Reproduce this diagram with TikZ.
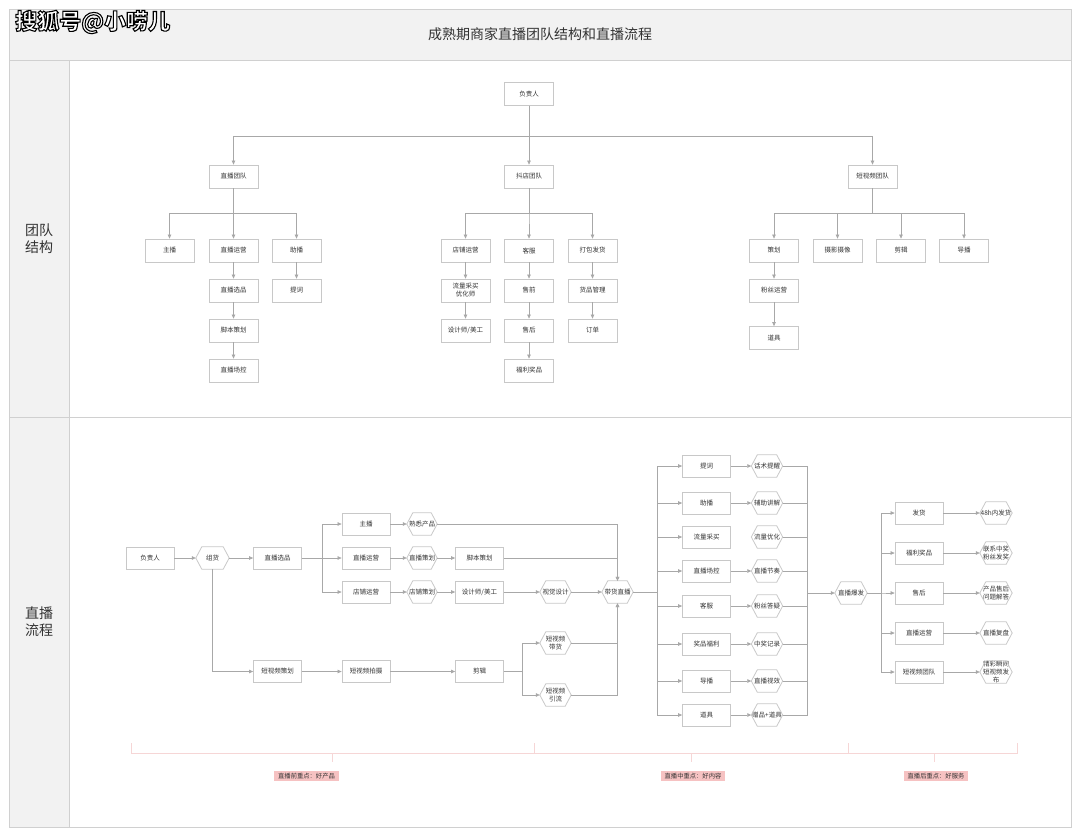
\documentclass[tikz,border=0pt]{standalone}
\usepackage{fontspec}
\setmainfont{Noto Sans CJK SC}
\usetikzlibrary{arrows.meta}
\definecolor{bord}{HTML}{C8C8C8}
\definecolor{lnc}{HTML}{A8A8A8}
\definecolor{framec}{HTML}{D0D0D0}
\definecolor{panel}{HTML}{F2F2F2}
\definecolor{txt}{HTML}{333333}
\definecolor{brc}{HTML}{F6D6D6}
\definecolor{labc}{HTML}{F6C2C2}
\tikzset{
  box/.style={draw=bord, line width=0.8pt, fill=white, minimum width=49pt, minimum height=23pt,
    inner sep=1pt, align=center, font=\fontsize{6.5}{8}\selectfont, text=txt},
  hexn/.style={minimum width=#1, minimum height=22pt, inner sep=0pt, align=center,
    font=\fontsize{6.5}{8}\selectfont, text=txt},
  hexl/.style={draw=bord, line width=0.8pt},
  arr/.style={draw=lnc, line width=0.7pt, -{Triangle[length=4pt,width=3.6pt]}},
  ln/.style={draw=lnc, line width=0.7pt},
  brace/.style={draw=brc, line width=0.8pt},
  keylab/.style={fill=labc, inner xsep=4pt, inner ysep=2pt, font=\fontsize{6.3}{7}\selectfont, text=txt},
}
\newcommand\hexat[4][31]{%
  \node[hexn=#1pt] (#2) at (#3) {#4};
  \draw[hexl] (#2.west) -- ([xshift=6pt]#2.north west) -- ([xshift=-6pt]#2.north east) -- (#2.east)
    -- ([xshift=-6pt]#2.south east) -- ([xshift=6pt]#2.south west) -- cycle;}
\begin{document}
\begin{tikzpicture}[x=1pt, y=-1pt]
\useasboundingbox (0,0) rectangle (1080,836);
% frame
\fill[panel] (9,9) rectangle (1071,60);
\fill[panel] (9,60) rectangle (69,827);
\draw[framec, line width=0.9pt] (9,9) rectangle (1071,827);
\draw[framec, line width=0.9pt] (9,60) -- (1071,60);
\draw[framec, line width=0.9pt] (9,417) -- (1071,417);
\draw[framec, line width=0.9pt] (69,60) -- (69,827);
\node[anchor=west, font=\fontsize{22}{24}\selectfont\bfseries, text=white, inner sep=0pt] (wm) at (15,22)
  {\special{pdf:literal direct 0 0 0 RG 2 Tr 1.1 w}搜狐号@小唠儿\special{pdf:literal direct 0 Tr}};
\node[font=\fontsize{14}{16}\selectfont, text=txt] (title) at (540,34) {成熟期商家直播团队结构和直播流程};
\node[font=\fontsize{14}{17}\selectfont, text=txt, align=center] (sec1) at (39,239) {团队\\结构};
\node[font=\fontsize{14}{17}\selectfont, text=txt, align=center] (sec2) at (39,622) {直播\\流程};

% ===== team structure =====
\node[box] (boss) at (529,94) {负责人};
\node[box] (zbtd) at (233.5,176.5) {直播团队};
\node[box] (dtd) at (529,176.5) {抖店团队};
\node[box] (dsp) at (872.5,176.5) {短视频团队};
\node[box] (zb) at (169.5,250.5) {主播};
\node[box] (zbyy) at (233.5,250.5) {直播运营};
\node[box] (zhub) at (296.5,250.5) {助播};
\node[box] (zbxp) at (233.5,290.5) {直播选品};
\node[box] (jbch) at (233.5,330.5) {脚本策划};
\node[box] (zbck) at (233.5,370.5) {直播场控};
\node[box] (tc) at (296.5,290.5) {提词};
\node[box] (dpyy) at (465.5,250.5) {店铺运营};
\node[box] (llcm) at (465.5,290.5) {流量采买\\优化师};
\node[box] (sjs) at (465.5,330.5) {设计师/美工};
\node[box] (kf) at (529,250.5) {客服};
\node[box] (sq) at (529,290.5) {售前};
\node[box] (sh) at (529,330.5) {售后};
\node[box] (fljp) at (529,370.5) {福利奖品};
\node[box] (dbfh) at (592.5,250.5) {打包发货};
\node[box] (hpgl) at (592.5,290.5) {货品管理};
\node[box] (dd) at (592.5,330.5) {订单};
\node[box] (ch) at (774,250.5) {策划};
\node[box] (sysx) at (837.5,250.5) {摄影摄像};
\node[box] (jj) at (901,250.5) {剪辑};
\node[box] (db) at (964,250.5) {导播};
\node[box] (fsyy) at (774,290.5) {粉丝运营};
\node[box] (dj) at (774,338) {道具};

\draw[arr] (boss.south) -- ++(0,30) -| (zbtd.north);
\draw[arr] (boss.south) -- (dtd.north);
\draw[arr] (boss.south) -- ++(0,30) -| (dsp.north);
\foreach \c in {zb,zbyy,zhub} \draw[arr] (zbtd.south) -- ++(0,25) -| (\c.north);
\foreach \c in {dpyy,kf,dbfh} \draw[arr] (dtd.south) -- ++(0,25) -| (\c.north);
\foreach \c in {ch,sysx,jj,db} \draw[arr] (dsp.south) -- ++(0,25) -| (\c.north);
\draw[arr] (zbyy) -- (zbxp);
\draw[arr] (zbxp) -- (jbch);
\draw[arr] (jbch) -- (zbck);
\draw[arr] (zhub) -- (tc);
\draw[arr] (dpyy) -- (llcm);
\draw[arr] (llcm) -- (sjs);
\draw[arr] (kf) -- (sq);
\draw[arr] (sq) -- (sh);
\draw[arr] (sh) -- (fljp);
\draw[arr] (dbfh) -- (hpgl);
\draw[arr] (hpgl) -- (dd);
\draw[arr] (ch) -- (fsyy);
\draw[arr] (fsyy) -- (dj);

% ===== live flow =====
\node[box, minimum width=48pt, minimum height=22pt] (fz) at (150,558) {负责人};
\hexat[33]{zh}{212.5,558}{组货}
\node[box, minimum width=48pt, minimum height=22pt] (xp) at (277.5,558) {直播选品};
\node[box, minimum width=48pt, minimum height=22pt] (zb2) at (366,524) {主播};
\node[box, minimum width=48pt, minimum height=22pt] (yy2) at (366,558) {直播运营};
\node[box, minimum width=48pt, minimum height=22pt] (dp2) at (366,592) {店铺运营};
\node[box, minimum width=48pt, minimum height=22pt] (dspch) at (277.5,671.5) {短视频策划};
\node[box, minimum width=48pt, minimum height=22pt] (dsppz) at (366,671.5) {短视频拍摄};
\hexat[30]{sxcp}{422,524}{熟悉产品}
\hexat[30]{zbcehua}{422,558}{直播策划}
\node[box, minimum width=48pt, minimum height=22pt] (jbch2) at (479.5,558) {脚本策划};
\hexat[30]{dpch}{422,592}{店铺策划}
\node[box, minimum width=48pt, minimum height=22pt] (sjs2) at (479.5,592) {设计师/美工};
\hexat{sjsj}{555.5,592}{视觉设计}
\hexat{dhzb}{617.5,592}{带货直播}
\node[box, minimum width=48pt, minimum height=22pt] (jj2) at (479.5,671.5) {剪辑};
\hexat{dspdh}{555.5,643}{短视频\\带货}
\hexat{dspyl}{555.5,695}{短视频\\引流}

\draw[arr] (fz.east) -- (zh.west);
\draw[arr] (zh.east) -- (xp.west);
\draw[arr] (xp.east) -- ++(20,0) |- (zb2.west);
\draw[arr] (xp.east) -- (yy2.west);
\draw[arr] (xp.east) -- ++(20,0) |- (dp2.west);
\draw[arr] (zh.south) |- (dspch.west);
\draw[arr] (zb2.east) -- (sxcp.west);
\draw[arr] (yy2.east) -- (zbcehua.west);
\draw[arr] (zbcehua.east) -- (jbch2.west);
\draw[arr] (dp2.east) -- (dpch.west);
\draw[arr] (dpch.east) -- (sjs2.west);
\draw[arr] (sjs2.east) -- (sjsj.west);
\draw[arr] (sjsj.east) -- (dhzb.west);
\draw[arr] (sxcp.east) -| (dhzb.north);
\draw[arr] (jbch2.east) -| (dhzb.north);
\draw[arr] (dspch.east) -- (dsppz.west);
\draw[arr] (dsppz.east) -- (jj2.west);
\draw[arr] (jj2.east) -- ++(18,0) |- (dspdh.west);
\draw[arr] (jj2.east) -- ++(18,0) |- (dspyl.west);
\draw[arr] (dspdh.east) -| (dhzb.south);
\draw[arr] (dspyl.east) -| (dhzb.south);

% middle column
\node[box, minimum width=48pt, minimum height=22pt] (m1) at (706.5,466) {提词};
\node[box, minimum width=48pt, minimum height=22pt] (m2) at (706.5,503) {助播};
\node[box, minimum width=48pt, minimum height=22pt] (m3) at (706.5,537) {流量采买};
\node[box, minimum width=48pt, minimum height=22pt] (m4) at (706.5,571) {直播场控};
\node[box, minimum width=48pt, minimum height=22pt] (m5) at (706.5,606) {客服};
\node[box, minimum width=48pt, minimum height=22pt] (m6) at (706.5,644) {奖品福利};
\node[box, minimum width=48pt, minimum height=22pt] (m7) at (706.5,681) {导播};
\node[box, minimum width=48pt, minimum height=22pt] (m8) at (706.5,715) {道具};
\hexat{h1}{767,466}{话术提醒}
\hexat{h2}{767,503}{辅助讲解}
\hexat{h3}{767,537}{流量优化}
\hexat{h4}{767,571}{直播节奏}
\hexat{h5}{767,606}{粉丝答疑}
\hexat{h6}{767,644}{中奖记录}
\hexat{h7}{767,681}{直播视效}
\hexat{h8}{767,715}{赠品+道具}
\foreach \n in {m1,m2,m3,m4,m5,m6,m7,m8} \draw[arr] (dhzb.east) -- ++(24,0) |- (\n.west);
\foreach \a/\b in {m1/h1,m2/h2,m4/h4,m5/h5,m6/h6,m7/h7,m8/h8} \draw[arr] (\a.east) -- (\b.west);
\coordinate (busR) at (807,593);
\foreach \n in {h1,h2,h3,h4,h5,h6,h7,h8} \draw[ln] (\n.east) -| (busR);

% right part
\hexat[32]{zbbf}{851,593}{直播爆发}
\draw[arr] (busR) -- (zbbf.west);
\node[box, minimum width=48pt, minimum height=22pt] (r1) at (919,513) {发货};
\node[box, minimum width=48pt, minimum height=22pt] (r2) at (919,553) {福利奖品};
\node[box, minimum width=48pt, minimum height=22pt] (r3) at (919,593) {售后};
\node[box, minimum width=48pt, minimum height=22pt] (r4) at (919,633) {直播运营};
\node[box, minimum width=48pt, minimum height=22pt] (r5) at (919,672) {短视频团队};
\hexat[32]{rh1}{996,513}{48h内发货}
\hexat[32]{rh2}{996,553}{联系中奖\\粉丝发奖}
\hexat[32]{rh3}{996,593}{产品售后\\问题解答}
\hexat[32]{rh4}{996,633}{直播复盘}
\hexat[32]{rh5}{996,672}{精彩瞬间\\短视频发\\布}
\foreach \n in {r1,r2,r3,r4,r5} \draw[arr] (zbbf.east) -- ++(14,0) |- (\n.west);
\foreach \a/\b in {r1/rh1,r2/rh2,r3/rh3,r4/rh4,r5/rh5} \draw[arr] (\a.east) -- (\b.west);

% bottom phase brackets
\draw[brace] (131,743) -- (131,753) -- (1017,753) -- (1017,743);
\draw[brace] (534,743) -- (534,753);
\draw[brace] (848,743) -- (848,753);
\draw[brace] (332,753) -- (332,762);
\draw[brace] (691,753) -- (691,762);
\draw[brace] (934,753) -- (934,762);
\node[keylab] (k1) at (306.5,776) {直播前重点：好产品};
\node[keylab] (k2) at (693,776) {直播中重点：好内容};
\node[keylab] (k3) at (936,776) {直播后重点：好服务};
\end{tikzpicture}
\end{document}
